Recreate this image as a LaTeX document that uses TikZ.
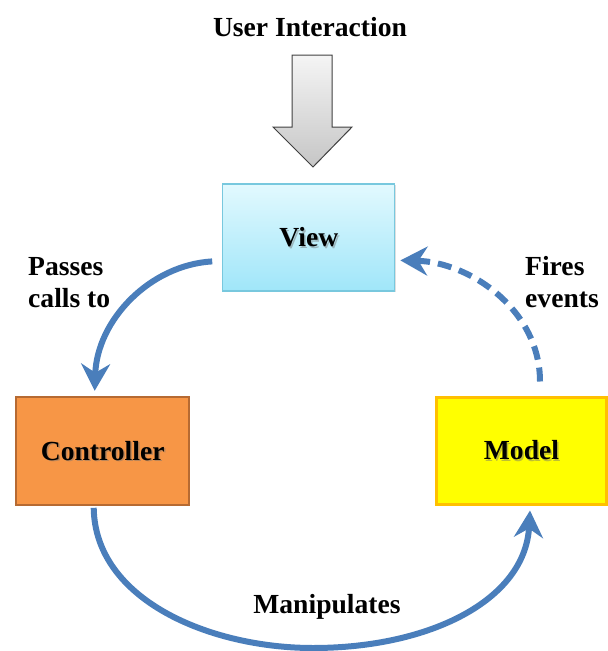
\documentclass[tikz,border=0pt]{standalone}
\usepackage{fontspec}
\setmainfont{Liberation Serif}
\usetikzlibrary{arrows.meta,calc,shadows}

\definecolor{flowblue}{RGB}{74,126,187}
\definecolor{viewtop}{RGB}{226,249,254}
\definecolor{viewbot}{RGB}{160,230,249}
\definecolor{viewedge}{RGB}{120,200,222}
\definecolor{ctrlfill}{RGB}{247,150,70}
\definecolor{ctrledge}{RGB}{182,106,50}
\definecolor{modelfill}{RGB}{255,255,0}
\definecolor{modeledge}{RGB}{255,192,0}

\begin{document}
\begin{tikzpicture}[x=1pt,y=-1pt,
  lbl/.style={font=\fontsize{27.6}{32}\selectfont\bfseries, inner sep=0pt},
  shadowtext/.style={lbl, text=black!55, opacity=0.45},
  box/.style={minimum width=172pt, minimum height=107pt, inner sep=0pt},
  flow/.style={draw=flowblue, line width=6pt,
    -{Stealth[length=27pt,width=29pt,inset=9pt]}},
]
\useasboundingbox (0,0) rectangle (608,651);

% incoming user action
\node[lbl] (title) at (310,27) {User Interaction};
\shadedraw[top color=gray!8, bottom color=gray!45, draw=black!75, line width=1pt]
  (292,55) -- (332,55) -- (332,127) -- (352,127) -- (313,167)
  -- (273,127) -- (292,127) -- cycle;

% the three parts
\node[box, top color=viewtop, bottom color=viewbot, draw=viewedge, line width=1.2pt,
      drop shadow={opacity=0.25, shadow xshift=1.5pt, shadow yshift=-1.5pt}]
  (View) at (308.8,237.4) {};
\node[box, fill=ctrlfill, draw=ctrledge, line width=2pt, minimum width=173pt, minimum height=108pt]
  (Controller) at (102.7,450.8) {};
\node[box, fill=modelfill, draw=modeledge, line width=3pt, minimum width=170pt]
  (Model) at (521.5,450.5) {};

% label text with a soft shadow
\node[shadowtext] (viewsh) at ($(View)+(1.5,1.5)$) {View};
\node[lbl] (viewtxt) at (View) {View};
\node[shadowtext] (ctrlsh) at ($(Controller)+(1.5,1.5)$) {Controller};
\node[lbl] (ctrltxt) at (Controller) {Controller};
\node[shadowtext] (modelsh) at ($(Model)+(1.5,1.5)$) {Model};
\node[lbl] (modeltxt) at (Model) {Model};

% connectors
\coordinate (a1s) at ($(View.west)+(-10,24)$);
\coordinate (a1e) at ($(Controller.north)+(-8,-5)$);
\draw[flow] (a1s) .. controls (150,265) and (97,320) .. (a1e);

\coordinate (a2s) at ($(Model.north)+(18.5,-14)$);
\coordinate (a2e) at ($(View.east)+(5,23)$);
\draw[flow, dash pattern=on 14pt off 8pt] (a2s) .. controls (540,310) and (470,262) .. (a2e);

\coordinate (a3s) at ($(Controller.south)+(-9,2)$);
\coordinate (a3b) at (313,648);
\coordinate (a3e) at ($(Model.south)+(8.5,5)$);
\draw[flow] (a3s) .. controls (95,600) and (210,648) .. (a3b)
  .. controls (430,648) and (525,600) .. (a3e);

% connector labels (base anchor sits on the last line)
\node[lbl, align=left, anchor=base west] (passes) at (28,307) {Passes\\calls to};
\node[lbl, align=left, anchor=base west] (fires) at (525,307) {Fires\\events};
\node[lbl] (manip) at (327,607) {Manipulates};
\end{tikzpicture}
\end{document}
